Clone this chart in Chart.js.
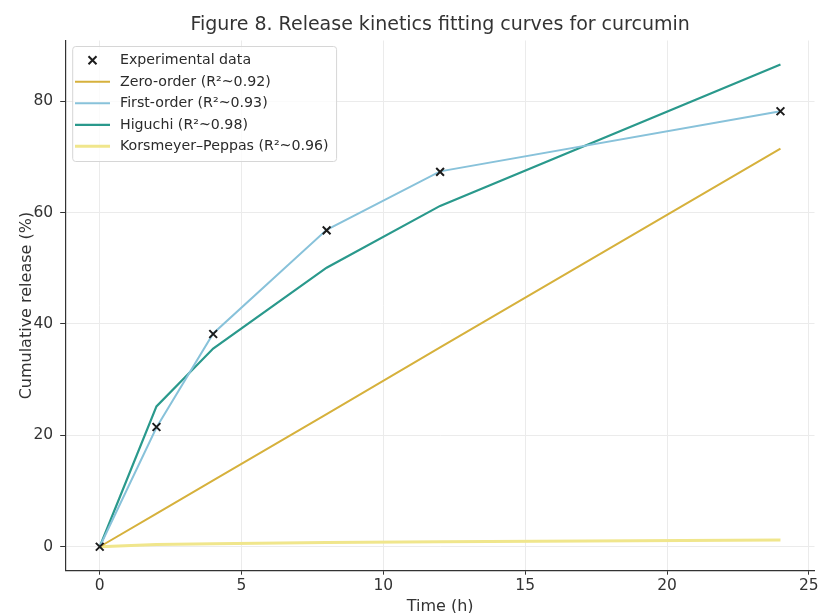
<!DOCTYPE html>
<html>
<head>
<meta charset="utf-8">
<title>Figure 8. Release kinetics fitting curves for curcumin</title>
<script src="https://cdn.jsdelivr.net/npm/chart.js@4.4.1/dist/chart.umd.min.js"></script>
<style>
  html, body { margin: 0; padding: 0; background: #fff; }
  #chart { display: block; }
</style>
</head>
<body>
<canvas id="chart" width="822" height="613"></canvas>
<script>
// values
var timeH = [0, 2, 4, 8, 12, 24];
var experimental = [0, 21.5, 38.2, 56.8, 67.3, 78.2];
var zeroOrder = [0, 5.96, 11.9, 23.8, 35.8, 71.5];
var firstOrder = [0, 21.4, 38.3, 56.9, 67.4, 78.2];
var higuchi = [0, 25.2, 35.6, 50.1, 61.2, 86.6];
var korsmeyerPeppas = [0, 0.4, 0.55, 0.75, 0.9, 1.2];

var xTicks = [0, 5, 10, 15, 20, 25];
var yTicks = [0, 20, 40, 60, 80];

var seriesNames = [
    'Experimental data',
    'Zero-order (R²~0.92)',
    'First-order (R²~0.93)',
    'Higuchi (R²~0.98)',
    'Korsmeyer–Peppas (R²~0.96)'
];
var seriesColors = ['#1c1c1c', '#d6b13c', '#88c2da', '#2a998c', '#f0e68c'];

Chart.defaults.font.family = "'DejaVu Sans', sans-serif";
Chart.defaults.color = '#333';

function pts(ys) {
    return timeH.map(function (t, i) { return { x: t, y: ys[i] }; });
}

function lineSet(idx, ys, width) {
    return {
        label: seriesNames[idx],
        data: pts(ys),
        borderColor: seriesColors[idx],
        backgroundColor: seriesColors[idx],
        borderWidth: width,
        pointRadius: 0,
        tension: 0,
        fill: false
    };
}

// matplotlib-like legend box in the upper left of the axes
var boxLegend = {
    id: 'boxLegend',
    afterDraw: function (chart) {
        var ctx = chart.ctx;
        var area = chart.chartArea;
        var sets = chart.data.datasets;
        var left = area.left + 7, top = area.top + 6;
        var rowH = 21.5, firstRow = 13.8;
        ctx.save();
        ctx.font = "14.2px 'DejaVu Sans'";
        var maxW = 0;
        sets.forEach(function (ds) { maxW = Math.max(maxW, ctx.measureText(ds.label).width); });
        var w = 47.3 + maxW + 8;
        var h = firstRow + (sets.length - 1) * rowH + 15.2;
        var r = 3;
        ctx.beginPath();
        ctx.moveTo(left + r, top);
        ctx.arcTo(left + w, top, left + w, top + h, r);
        ctx.arcTo(left + w, top + h, left, top + h, r);
        ctx.arcTo(left, top + h, left, top, r);
        ctx.arcTo(left, top, left + w, top, r);
        ctx.closePath();
        ctx.fillStyle = 'rgba(255,255,255,0.8)';
        ctx.fill();
        ctx.strokeStyle = '#d6d6d6';
        ctx.lineWidth = 1;
        ctx.stroke();

        sets.forEach(function (ds, i) {
            var cy = top + firstRow + i * rowH;
            if (ds.showLine === false) {
                var s = 4;
                ctx.strokeStyle = ds.borderColor;
                ctx.lineWidth = 2;
                ctx.beginPath();
                ctx.moveTo(left + 19.8 - s, cy - s);
                ctx.lineTo(left + 19.8 + s, cy + s);
                ctx.moveTo(left + 19.8 - s, cy + s);
                ctx.lineTo(left + 19.8 + s, cy - s);
                ctx.stroke();
            } else {
                ctx.strokeStyle = ds.borderColor;
                ctx.lineWidth = ds.borderWidth;
                ctx.beginPath();
                ctx.moveTo(left + 2.3, cy);
                ctx.lineTo(left + 37.3, cy);
                ctx.stroke();
            }
            ctx.fillStyle = '#2b2b2b';
            ctx.textBaseline = 'middle';
            ctx.textAlign = 'left';
            ctx.fillText(ds.label, left + 47.3, cy + 0.5);
        });
        ctx.restore();
    }
};

var chart = new Chart(document.getElementById('chart').getContext('2d'), {
    type: 'line',
    data: {
        datasets: [
            {
                label: seriesNames[0],
                data: pts(experimental),
                showLine: false,
                pointStyle: 'crossRot',
                pointRadius: 5.5,
                pointHoverRadius: 5.5,
                pointBorderWidth: 2,
                borderColor: seriesColors[0],
                backgroundColor: seriesColors[0]
            },
            lineSet(1, zeroOrder, 2),
            lineSet(2, firstOrder, 2),
            lineSet(3, higuchi, 2.2),
            lineSet(4, korsmeyerPeppas, 3)
        ]
    },
    options: {
        responsive: false,
        animation: false,
        layout: { padding: { left: 0, right: 3.5, top: 0, bottom: 0 } },
        plugins: {
            legend: { display: false },
            tooltip: { enabled: false },
            title: {
                display: true,
                fullSize: false,
                text: 'Figure 8. Release kinetics fitting curves for curcumin',
                color: '#333',
                font: { size: 19, weight: 'normal' },
                padding: { top: 13.6, bottom: 4.1 }
            }
        },
        scales: {
            x: {
                type: 'linear',
                min: -1.2,
                max: 25.2,
                afterBuildTicks: function (s) {
                    s.ticks = xTicks.map(function (v) { return { value: v }; });
                },
                afterFit: function (s) {
                    s.height = 42.3;
                    s.paddingLeft = 0;
                    s.paddingRight = 3.5;
                },
                ticks: { font: { size: 15.5 }, color: '#333', padding: 2, maxRotation: 0 },
                grid: { color: '#ebebeb', lineWidth: 1, tickColor: '#333', tickLength: 4 },
                border: { display: true, color: '#333', width: 1.2 },
                title: {
                    display: true,
                    text: 'Time (h)',
                    color: '#333',
                    font: { size: 16, lineHeight: 1 },
                    padding: { top: 0, bottom: -1.5 }
                }
            },
            y: {
                type: 'linear',
                min: -4.3,
                max: 90.9,
                afterBuildTicks: function (s) {
                    s.ticks = yTicks.map(function (v) { return { value: v }; });
                },
                afterFit: function (s) {
                    s.width = 65.7;
                    s.paddingTop = 0;
                    s.paddingBottom = 0;
                },
                ticks: { font: { size: 15.5 }, color: '#333', padding: 7 },
                grid: { color: '#ebebeb', lineWidth: 1, tickColor: '#333', tickLength: 5.5 },
                border: { display: true, color: '#333', width: 1.2 },
                title: {
                    display: true,
                    text: 'Cumulative release (%)',
                    color: '#333',
                    font: { size: 16 },
                    padding: { top: 17, bottom: 0 }
                }
            }
        }
    },
    plugins: [boxLegend]
});
</script>
</body>
</html>
